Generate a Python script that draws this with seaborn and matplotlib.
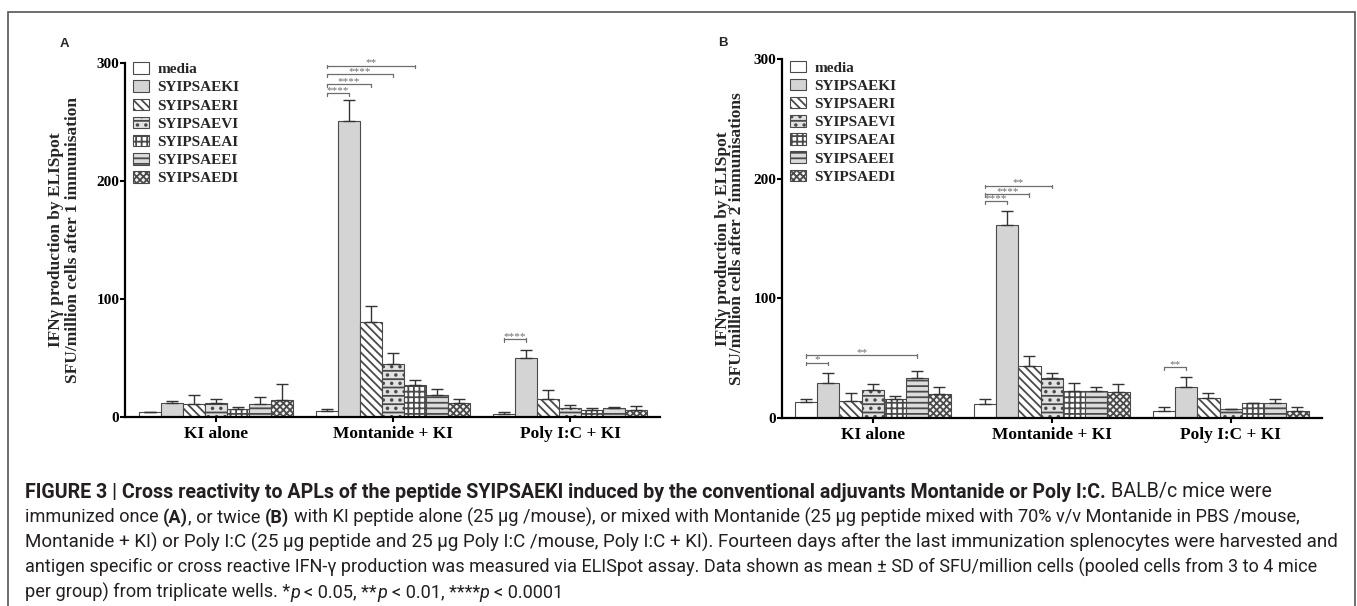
import numpy as np
import pandas as pd
import matplotlib
matplotlib.use("Agg")
import matplotlib.pyplot as plt
import seaborn as sns
from matplotlib.patches import Rectangle
from matplotlib.container import BarContainer

# ---------------- data ----------------
groups = ["KI alone", "Montanide + KI", "Poly I:C + KI"]
peptides = ["media", "SYIPSAEKI", "SYIPSAERI", "SYIPSAEVI",
            "SYIPSAEAI", "SYIPSAEEI", "SYIPSAEDI"]

# Panel A: after 1 immunisation (mean, SD) per group, peptides in order above
a_ki_mean = [4, 12, 11, 12, 6.5, 11, 14]
a_ki_sd = [0, 1.5, 7.5, 3.3, 2, 5.7, 13.5]
a_mon_mean = [5, 251, 80.5, 44.6, 26.6, 18, 11.3]
a_mon_sd = [1.8, 17, 13, 9.6, 4.2, 5.2, 3.7]
a_pic_mean = [2, 49.4, 15, 7.3, 5.6, 7, 5.6]
a_pic_sd = [1.7, 7.1, 7.6, 2.3, 1.7, 1.2, 3.7]

# Panel B: after 2 immunisations
b_ki_mean = [12.8, 29, 13.7, 23.4, 15.6, 32.9, 19.8]
b_ki_sd = [2.8, 8.1, 6.7, 5.1, 2.8, 6.1, 5.6]
b_mon_mean = [11.2, 161, 43.3, 32.9, 22.6, 22.6, 21.5]
b_mon_sd = [4.2, 12, 8.3, 4.8, 6.4, 3.4, 6.4]
b_pic_mean = [5.3, 25.7, 16.5, 7, 12, 12.6, 5.9]
b_pic_sd = [3.9, 8.3, 3.9, 0, 0.6, 3, 3]

# significance brackets: (group index, from peptide, to peptide, height, label)
a_sig = [(1, 0, 1, 274, "****"), (1, 0, 2, 281.6, "****"),
         (1, 0, 3, 290, "****"), (1, 0, 4, 297.6, "**"),
         (2, 0, 1, 65.8, "****")]
b_sig = [(0, 0, 1, 46, "*"), (0, 0, 5, 52.5, "**"),
         (1, 0, 1, 181, "****"), (1, 0, 2, 187.3, "****"),
         (1, 0, 3, 194.3, "**"), (2, 0, 1, 42.2, "**")]

yticks = [0, 100, 200, 300]

# ---------------- style ----------------
sns.set_theme(style="ticks")
plt.rcParams["font.family"] = ["Liberation Serif", "DejaVu Serif"]
plt.rcParams["hatch.linewidth"] = 1.3
plt.rcParams["hatch.color"] = "#4a4a4a"

face_colors = ["#ffffff", "#d4d4d4", "#ffffff", "#e2e2e2",
               "#ffffff", "#dcdcdc", "#f2f2f2"]
hatches = [None, None, "\\\\\\\\", "--..", "+++", "---", "xxxxx"]
edge = "#4a4a4a"

W, H = 1357, 606
fig = plt.figure(figsize=(W / 100, H / 100), dpi=100)
fig.patch.set_facecolor("white")


def px_axes(l, t, r, b):
    return fig.add_axes([l / W, 1 - b / H, (r - l) / W, (b - t) / H])


def draw_panel(ax, means, sds, ylabel, sigs, xlim, leg_anchor, label_x, linesp):
    df = pd.DataFrame({
        "group": np.repeat(groups, len(peptides)),
        "peptide": peptides * len(groups),
        "value": np.concatenate(means),
    })
    sns.barplot(data=df, x="group", y="value", hue="peptide",
                order=groups, hue_order=peptides,
                palette=dict(zip(peptides, face_colors)), saturation=1,
                width=0.87, errorbar=None, edgecolor=edge, linewidth=0.8,
                legend=False, ax=ax)
    bars = [c for c in ax.containers if isinstance(c, BarContainer)]
    bars = sorted(bars, key=lambda c: min(p.get_x() for p in c.patches))
    centers = {}
    for i, c in enumerate(bars):
        xs, ys, es = [], [], []
        for p in c.patches:
            if hatches[i]:
                p.set_hatch(hatches[i])
            xc = p.get_x() + p.get_width() / 2
            g = int(round(xc))
            centers[(g, i)] = xc
            xs.append(xc)
            ys.append(p.get_height())
            es.append(sds[g][i])
        ax.errorbar(xs, ys, yerr=[np.zeros(len(es)), es], fmt="none",
                    ecolor="#333333", elinewidth=1.0, capsize=4.5,
                    capthick=1.0, zorder=1)
    # significance brackets
    for g, i0, i1, y, lab in sigs:
        x0, x1 = centers[(g, i0)], centers[(g, i1)]
        ax.plot([x0, x1], [y, y], color="#6e6e6e", lw=0.9,
                clip_on=False, zorder=5)
        for xx in (x0, x1):
            ax.plot([xx, xx], [y - 2.2, y + 0.6], color="#6e6e6e",
                    lw=0.9, clip_on=False, zorder=5)
        ax.text((x0 + x1) / 2, y + 0.2, lab, ha="center", va="baseline",
                fontsize=8, color="#6e6e6e", clip_on=False)

    ax.set_ylim(0, 300)
    ax.set_xlim(*xlim)
    ax.set_yticks(yticks)
    ax.set_yticklabels([str(v) for v in yticks], fontsize=11,
                       fontweight="bold")
    ax.set_xticks(range(len(groups)))
    ax.set_xticklabels(groups, fontsize=12.5, fontweight="bold")
    ax.set_xlabel("")
    ax.set_ylabel(ylabel, fontsize=12.5, fontweight="bold",
                  linespacing=linesp, multialignment="center")
    ax.yaxis.label.set_va("center")
    ax.yaxis.set_label_coords(label_x, 0.5)
    sns.despine(ax=ax)
    for s in ("left", "bottom"):
        ax.spines[s].set_linewidth(1.6)
        ax.spines[s].set_color("black")
    ax.tick_params(axis="both", direction="out", length=3.5, width=1.5,
                   color="black", labelcolor="black")
    ax.tick_params(axis="y", pad=0.5)
    ax.tick_params(axis="x", pad=3)
    ax.set_facecolor("white")
    ax.legend(bars, peptides, loc="upper left", bbox_to_anchor=leg_anchor,
              frameon=False, prop={"family": "Liberation Serif",
                                   "weight": "bold", "size": 11},
              handlelength=1.05, handleheight=0.78, handletextpad=0.55,
              labelspacing=0.27, borderpad=0, borderaxespad=0)


axA = px_axes(125, 62.7, 660, 416.7)
axB = px_axes(782, 59.3, 1322, 417.7)

draw_panel(axA, [a_ki_mean, a_mon_mean, a_pic_mean],
           [a_ki_sd, a_mon_sd, a_pic_sd],
           "IFN\u03b3 production by ELISpot\nSFU/million cells after 1 immunisation",
           a_sig, (-0.514, 2.508), (0.015, 1.0015), -0.113, 1.03)
draw_panel(axB, [b_ki_mean, b_mon_mean, b_pic_mean],
           [b_ki_sd, b_mon_sd, b_pic_sd],
           "IFN\u03b3 production by ELISpot\nSFU/million cells after 2 immunisations",
           b_sig, (-0.507, 2.51), (0.015, 0.9966), -0.096, 0.84)

# panel letters
fig.text(60 / W, 1 - 44 / H, "A", family="Liberation Sans", weight="bold",
         fontsize=9.5, ha="left", va="center")
fig.text(718 / W, 1 - 42.7 / H, "B", family="Liberation Sans", weight="bold",
         fontsize=9.5, ha="left", va="center")

# outer frame
fig.add_artist(Rectangle((8 / W, -0.05), (1355 - 8) / W, 1.05 - 12 / H,
                         transform=fig.transFigure, fill=False,
                         edgecolor="#555555", lw=1.2))

# ---------------- caption ----------------
cap_lines = [
    [("FIGURE 3 | Cross reactivity to APLs of the peptide SYIPSAEKI induced by the conventional adjuvants Montanide or Poly I:C.", "b"),
     (" BALB/c mice were", "r")],
    [("immunized once ", "r"), ("(A)", "b"), (", or twice ", "r"), ("(B)", "b"),
     (" with KI peptide alone (25 \u03bcg /mouse), or mixed with Montanide (25 \u03bcg peptide mixed with 70% v/v Montanide in PBS /mouse,", "r")],
    [("Montanide + KI) or Poly I:C (25 \u03bcg peptide and 25 \u03bcg Poly I:C /mouse, Poly I:C + KI). Fourteen days after the last immunization splenocytes were harvested and", "r")],
    [("antigen specific or cross reactive IFN-\u03b3 production was measured via ELISpot assay. Data shown as mean \u00b1 SD of SFU/million cells (pooled cells from 3 to 4 mice", "r")],
    [("per group) from triplicate wells. *", "r"), ("p", "i"), (" < 0.05, **", "r"),
     ("p", "i"), (" < 0.01, ****", "r"), ("p", "i"), (" < 0.0001", "r")],
]
# right end (px) of each caption line in the reference (None: natural width)
cap_right = [1274, 1306, 1347, 1325, None]
cap_left = 25
cap_font = "Roboto"
renderer = fig.canvas.get_renderer()


def props(style, size):
    return dict(family=cap_font, fontsize=size,
                fontweight="bold" if style == "b" else "normal",
                fontstyle="italic" if style == "i" else "normal",
                color="#231f20")


def text_w(s, style, size):
    if not s:
        return 0.0
    t = fig.text(0, 0, s, **props(style, size))
    w = t.get_window_extent(renderer).width
    t.remove()
    return w


def space_w(style, size):
    return text_w("x x", style, size) - text_w("xx", style, size)


def run_layout(runs, size):
    pieces, x = [], 0.0
    for s, st in runs:
        lead = len(s) - len(s.lstrip(" "))
        trail = len(s) - len(s.rstrip(" "))
        core = s.strip(" ")
        sw = space_w(st, size)
        x += lead * sw
        pieces.append((x, core, st))
        x += text_w(core, st, size) + trail * sw
    return pieces, x


base = 11.5
sizes = []
for runs, right in zip(cap_lines, cap_right):
    if right is None:
        sizes.append(None)
        continue
    _, w = run_layout(runs, base)
    sizes.append(base * (right - cap_left) / w)
fitted = [s for s in sizes if s is not None]
sizes = [s if s is not None else float(np.median(fitted[1:])) for s in sizes]

for k, runs in enumerate(cap_lines):
    pieces, _ = run_layout(runs, sizes[k])
    y = 497.5 + 25 * k
    for x, s, st in pieces:
        fig.text((cap_left + x) / W, 1 - y / H, s, ha="left", va="baseline",
                 **props(st, sizes[k]))

fig.savefig("out.png", dpi=100, facecolor="white")
